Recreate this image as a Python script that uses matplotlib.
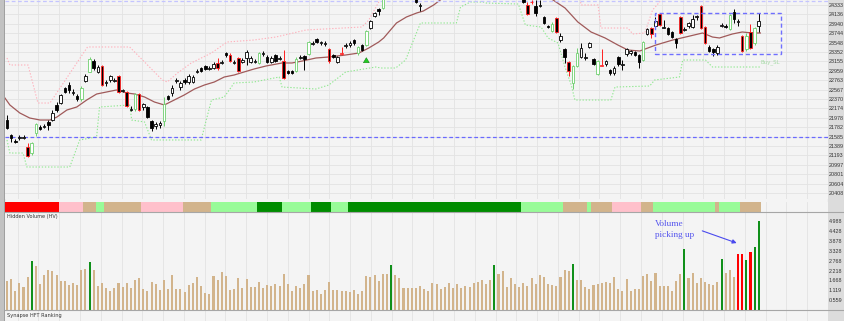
import numpy as np
import matplotlib.pyplot as plt
from matplotlib.patches import Rectangle
from matplotlib.lines import Line2D

W, H = 845, 321

# right axis labels
price_ticks = [24333, 24136, 23940, 23744, 23548, 23352, 23155, 22959, 22763, 22567,
               22370, 22174, 21978, 21782, 21585, 21389, 21193, 20997, 20801, 20604, 20408]
vol_ticks = [4.988, 4.428, 3.878, 3.328, 2.768, 2.218, 1.668, 1.119, 0.559]

# daily candles
opens = [21931, 21618, 21493, 21556, 21556, 21368, 21242, 21660, 21785, 21785,
         21890, 21931, 22245, 22286, 22600, 22662, 22495, 22432, 22370, 22746,
         22934, 23163, 22934, 23059, 22704, 22767, 22746, 22850, 22537, 22516,
         22140, 22161, 22474, 22203, 22203, 21911, 21806, 21827, 21911, 22432,
         22495, 22746, 22620, 22767, 22725, 22725, 22934, 23017, 23059, 22996,
         23017, 23122, 23122, 23330, 23289, 23122, 23226, 23142, 23226, 23142,
         23142, 23122, 23310, 23247, 23142, 23289, 23205, 23163, 22954, 22954,
         22954, 23226, 23268, 23310, 23518, 23623, 23539, 23518, 23414, 23289,
         23142, 23310, 23477, 23497, 23602, 23330, 23497, 23497, 23852, 24103,
         24249, 24270, 24500, 24580, 24650, 24610, 24700, 24660, 24600, 24458,
         24312, 24470, 24560, 24640, 24720, 24690, 24780, 24850, 24820, 24900,
         24960, 24920, 24990, 24950, 24880, 24930, 24870, 24800, 24840, 24750,
         24780, 24700, 24640, 24680, 24580, 24479, 24333, 24385, 24312, 24322,
         24082, 23894, 23790, 24061, 23602, 23414, 23142, 22704, 23059, 23247,
         23226, 23456, 23205, 22892, 23059, 23101, 22975, 22913, 23247, 23080,
         23310, 23330, 23351, 23289, 23184, 23727, 23852, 23894, 24145, 23852,
         23852, 23769, 23623, 24082, 23811, 23894, 23873, 24082, 24312, 23873,
         23456, 23414, 23330, 23894, 23894, 23832, 24186, 23978, 23685, 23414,
         23769, 23539, 23894]
highs = [22036, 21639, 21535, 21618, 21618, 21451, 21472, 21869, 21827, 21848,
         21931, 22140, 22307, 22474, 22620, 22725, 22579, 22474, 22641, 22892,
         23247, 23205, 23080, 23080, 22767, 22871, 22808, 22871, 22579, 22537,
         22224, 22495, 22495, 22286, 22224, 21931, 21890, 21911, 22412, 22453,
         22662, 22808, 22746, 22808, 22892, 22871, 22996, 23038, 23080, 23059,
         23142, 23226, 23184, 23351, 23330, 23184, 23247, 23226, 23393, 23268,
         23205, 23351, 23372, 23289, 23268, 23310, 23268, 23393, 22975, 22975,
         23247, 23289, 23289, 23581, 23581, 23644, 23581, 23581, 23435, 23310,
         23268, 23456, 23539, 23581, 23623, 23477, 23518, 23811, 24019, 24186,
         24270, 24541, 24620, 24690, 24700, 24740, 24750, 24690, 24630, 24562,
         24374, 24590, 24670, 24750, 24770, 24810, 24880, 24900, 24930, 25000,
         25010, 25030, 25040, 24980, 24960, 24950, 24890, 24870, 24860, 24810,
         24800, 24730, 24710, 24700, 24600, 24562, 24395, 24437, 24437, 24437,
         24103, 23915, 23978, 24082, 23748, 23435, 23163, 23080, 23435, 23539,
         23330, 23560, 23226, 23184, 23414, 23184, 22996, 23059, 23268, 23184,
         23435, 23393, 23372, 23310, 23581, 23852, 23873, 24082, 24166, 24019,
         23873, 23790, 23644, 24103, 23873, 23978, 24124, 24124, 24333, 23894,
         23497, 23435, 23497, 23957, 23936, 24145, 24249, 24040, 23706, 23748,
         23936, 23873, 24166]
lows = [21744, 21472, 21451, 21514, 21535, 21159, 21200, 21597, 21723, 21764,
        21723, 21911, 22098, 22265, 22495, 22495, 22453, 22328, 22328, 22725,
        22934, 22975, 22913, 22641, 22641, 22725, 22725, 22495, 22516, 22203,
        22119, 22119, 22119, 22140, 21973, 21702, 21744, 21764, 21806, 22349,
        22432, 22704, 22558, 22683, 22683, 22704, 22913, 22934, 22975, 22975,
        22996, 22975, 23101, 23247, 23142, 23101, 22934, 23122, 23080, 23122,
        23122, 23101, 23268, 23122, 23122, 23142, 23184, 22787, 22892, 22892,
        22934, 23205, 22975, 23289, 23497, 23539, 23497, 23477, 23122, 23226,
        23122, 23289, 23435, 23456, 23497, 23289, 23372, 23477, 23832, 24082,
        24124, 24249, 24470, 24540, 24570, 24590, 24620, 24560, 24490, 24374,
        24207, 24450, 24530, 24610, 24650, 24660, 24750, 24790, 24800, 24870,
        24880, 24900, 24910, 24850, 24850, 24830, 24770, 24760, 24720, 24700,
        24660, 24600, 24590, 24540, 24480, 24374, 24124, 24353, 24103, 24291,
        23936, 23852, 23769, 23748, 23560, 23122, 22850, 22579, 23038, 23226,
        23184, 23435, 23080, 22871, 23059, 23059, 22871, 22871, 23059, 22975,
        23268, 23289, 23268, 23017, 23163, 23706, 23644, 23873, 23894, 23852,
        23706, 23644, 23435, 23727, 23790, 23852, 23852, 24019, 23832, 23518,
        23351, 23268, 23289, 23873, 23852, 23811, 23957, 23894, 23351, 23372,
        23414, 23497, 23769]
closes = [21764, 21556, 21472, 21577, 21577, 21180, 21451, 21848, 21744, 21806,
          21827, 22078, 22140, 22453, 22516, 22558, 22516, 22370, 22600, 22850,
          23205, 23017, 23038, 22662, 22725, 22850, 22767, 22516, 22558, 22224,
          22161, 22474, 22140, 22265, 21994, 21764, 21848, 21869, 22265, 22370,
          22600, 22767, 22704, 22725, 22850, 22829, 22954, 22954, 22996, 23017,
          23101, 23017, 23142, 23289, 23163, 23142, 22954, 23184, 23351, 23226,
          23163, 23330, 23330, 23142, 23226, 23163, 23226, 22808, 22913, 22913,
          23205, 23247, 23205, 23560, 23539, 23560, 23560, 23539, 23163, 23247,
          23247, 23330, 23497, 23539, 23539, 23456, 23393, 23790, 23999, 24166,
          24207, 24500, 24580, 24650, 24610, 24700, 24660, 24600, 24520, 24395,
          24333, 24560, 24640, 24720, 24690, 24780, 24850, 24820, 24900, 24960,
          24920, 24990, 24950, 24880, 24930, 24870, 24800, 24840, 24750, 24780,
          24700, 24640, 24680, 24580, 24520, 24395, 24145, 24395, 24166, 24333,
          23957, 23873, 23936, 23769, 23685, 23247, 22954, 23059, 23330, 23435,
          23247, 23539, 23101, 23163, 23080, 23163, 22913, 23017, 23101, 23101,
          23414, 23372, 23289, 23142, 23560, 23832, 23727, 23999, 23915, 23873,
          23727, 23664, 23539, 23748, 23832, 23957, 24040, 24103, 23852, 23539,
          23372, 23351, 23456, 23915, 23873, 24124, 24040, 23999, 23372, 23685,
          23435, 23852, 23999]
red_edge = [5, 23, 27, 29, 32, 51, 54, 56, 67, 78, 81, 126, 127, 133, 136, 144,
            156, 158, 163, 168, 169, 178, 180]
green_edge = [6, 7, 18, 20, 31, 38, 61, 70, 73, 85, 87, 91, 132, 137, 138, 143,
              154, 175, 179, 181]

# moving average (brown line)
ma_idx = [-0.5, 0.7, 3.1, 5.5, 8.0, 10.4, 12.1, 14.5, 16.9, 19.3,
          21.7, 24.1, 26.5, 29.0, 30.9, 33.3, 35.7, 38.1, 40.5, 42.9,
          45.4, 47.8, 50.2, 52.6, 55.0, 57.4, 59.8, 62.7, 66.6, 69.0,
          71.5, 74.8, 77.9, 82.0, 85.2, 87.6, 90.0, 91.2, 94.3, 96.7,
          99.2, 100.8, 103.3, 104.9, 108, 112, 116, 120, 124, 128,
          132.2, 135.1, 138.2, 141.4, 144.8, 147.9, 150.3, 153.2, 157.1, 161.2,
          164.3, 168.4, 170.8, 172.5, 175.6, 178.0, 180.5, 182.4]
ma_val = [22391, 22245, 22078, 21973, 21931, 21931, 21994, 22140, 22203, 22349,
          22474, 22516, 22558, 22495, 22474, 22412, 22307, 22245, 22349, 22453,
          22579, 22662, 22725, 22829, 22871, 22934, 22996, 23059, 23122, 23122,
          23163, 23226, 23247, 23289, 23330, 23435, 23560, 23644, 23957, 24082,
          24166, 24207, 24333, 24437, 24650, 24800, 24860, 24820, 24720, 24600,
          24437, 24270, 23978, 23769, 23644, 23497, 23393, 23372, 23497, 23602,
          23664, 23748, 23664, 23644, 23727, 23769, 23748, 23748]

# upper band (pink dotted)
up_idx = [0, 0.7, 5.1, 7.5, 10.4, 19.5, 29.7, 34.5, 37.6, 38.8,
          41.3, 44.6, 49.5, 53.3, 59.8, 65.1, 72.4, 85.9, 87.6, 90.0,
          91.2, 100, 120, 137.5, 139.0, 143.1, 143.8, 150.3, 151.5, 154.4,
          156.3, 158.0, 158.7, 182.4]
up_val = [23226, 23080, 23080, 22286, 22286, 23456, 23456, 23038, 22767, 22725,
          22913, 23122, 23330, 23560, 23602, 23664, 23811, 23873, 24019, 24395,
          24646, 24900, 25100, 25100, 24333, 24333, 23852, 23852, 23727, 23748,
          24228, 24395, 24541, 24700]

# lower band (green dotted)
lo_idx = [0, 0.7, 3.9, 4.8, 15.2, 17.6, 21.7, 22.4, 29.7, 30.2,
          33.3, 35.0, 47.0, 49.5, 52.6, 55.0, 59.8, 65.9, 66.6, 74.8,
          77.9, 82.0, 89.3, 90.5, 94.1, 96.5, 100.1, 108.8, 109.8, 112.2,
          115.3, 116.0, 123.8, 125.5, 129.3, 131.0, 133.4, 135.1, 136.6, 137.5,
          146.2, 147.2, 155.6, 156.8, 162.8, 163.6, 169.1, 170.8, 182.4]
lo_val = [21514, 21242, 21242, 20950, 20950, 21514, 21577, 22203, 22245, 21931,
          21890, 21514, 21514, 22349, 22412, 22704, 22725, 22829, 22620, 22579,
          22662, 22934, 23038, 23017, 23017, 23184, 23957, 23957, 24291, 24395,
          24395, 24374, 24353, 23915, 23873, 23644, 23539, 23038, 22662, 22349,
          22349, 22620, 22641, 22767, 22829, 23184, 23184, 23038, 23038]

# hidden volume
volume = [1.63, 1.73, 1.07, 1.50, 1.28, 1.88, 2.76, 2.50, 1.47, 1.97,
          2.24, 2.18, 1.97, 1.62, 1.62, 1.43, 1.52, 1.41, 2.25, 2.29,
          2.71, 2.24, 1.37, 1.52, 1.24, 1.09, 1.22, 1.50, 1.28, 1.52,
          1.22, 1.67, 1.82, 1.17, 1.09, 1.58, 1.45, 1.13, 1.69, 1.18,
          1.95, 1.18, 1.18, 1.03, 1.41, 1.50, 1.88, 1.35, 0.96, 0.92,
          1.92, 1.67, 2.14, 1.90, 1.11, 1.17, 1.82, 1.22, 1.75, 1.31,
          1.30, 1.60, 1.24, 1.43, 1.37, 1.47, 1.37, 2.03, 1.45, 1.09,
          1.37, 1.24, 1.48, 1.95, 1.09, 1.11, 0.92, 1.13, 1.58, 1.13,
          1.15, 1.05, 1.05, 1.01, 1.13, 0.92, 1.07, 1.90, 1.86, 1.95,
          1.65, 2.01, 2.01, 2.54, 1.95, 1.79, 1.22, 1.26, 1.26, 1.26,
          1.37, 1.17, 1.05, 1.50, 1.47, 1.18, 1.30, 1.50, 1.26, 1.47,
          1.24, 1.35, 1.30, 1.50, 1.56, 1.71, 1.48, 1.67, 2.54, 2.01,
          2.18, 1.30, 1.80, 1.47, 1.28, 1.50, 1.37, 1.80, 1.47, 1.95,
          1.88, 1.45, 1.39, 1.37, 1.88, 2.25, 2.20, 2.59, 1.67, 1.67,
          1.30, 1.17, 1.43, 1.45, 1.50, 1.58, 1.54, 1.86, 1.20, 1.05,
          1.75, 1.05, 1.20, 1.20, 1.93, 2.03, 1.63, 2.09, 1.37, 1.37,
          1.37, 1.09, 1.63, 2.01, 3.44, 1.82, 2.10, 1.54, 1.80, 1.56,
          1.45, 1.39, 1.56, 2.87, 2.09, 2.24, 1.84, 3.16, 3.16, 2.84,
          3.25, 3.57, 5.02]
vol_green = [6, 20, 93, 118, 137, 164, 173, 179, 181, 182]
vol_red = [177, 178, 180]

# ranking strip: colour code and run length in bars
strip_cols = ['r', 'p', 't', 'l', 't', 'p', 't', 'l', 'd', 'l', 'd', 'l',
              'd', 'l', 't', 'l', 't', 'p', 't', 'l', 't', 'l', 't']
strip_runs = [13, 6, 3, 2, 9, 10, 7, 11, 6, 7, 5, 4, 42, 10, 6, 1, 5, 7, 3, 15, 1, 5, 5]
strip_map = {'r': '#ff0000', 'p': '#ffc0cb', 't': '#d2b48c', 'l': '#98fb98', 'd': '#008c00'}

BG = '#f4f4f4'
GRID = '#e3e3e3'
XL = (-0.48, 198.1)
grid_x = np.arange(2.6, 199, 5.03)
TICK_FONT = dict(family='Liberation Sans', size=3.9)


def box(x0, y0, x1, y1):
    return [x0 / W, 1 - y1 / H, (x1 - x0) / W, (y1 - y0) / H]


def style(ax):
    ax.set_facecolor(BG)
    ax.set_xlim(*XL)
    for s in ax.spines.values():
        s.set_visible(False)
    ax.set_xticks(grid_x)
    ax.tick_params(axis='x', bottom=False, labelbottom=False)
    ax.grid(axis='x', color=GRID, lw=0.6)
    ax.set_axisbelow(True)


fig = plt.figure(figsize=(W / 100, H / 100), dpi=100, facecolor=BG)
fig.add_artist(Rectangle((828 / W, 0), 17 / W, 1, transform=fig.transFigure,
                         color='#dcdcdc', zorder=0))
fig.add_artist(Rectangle((0, 0), 4 / W, 1, transform=fig.transFigure,
                         color='#c2c2c2', zorder=0))

# main price panel
ax = fig.add_axes(box(5, 0, 828, 199))
style(ax)
ax.set_ylim(20282, 24437)
ax.yaxis.tick_right()
ax.set_yticks(price_ticks)
ax.set_yticklabels([str(p) for p in price_ticks], fontdict=TICK_FONT)
ax.tick_params(axis='y', length=0, pad=0.6, colors='#333333')
ax.grid(axis='y', color=GRID, lw=0.6)

ax.plot(up_idx, up_val, color='#ffb0bb', ls=(0, (1.2, 1.6)), lw=0.8, zorder=2)
ax.plot(lo_idx, lo_val, color='#90e890', ls=(0, (1.2, 1.6)), lw=0.8, zorder=2)
ax.plot(ma_idx, ma_val, color='#a05a5a', lw=0.9, zorder=2)
ax.axhline(21585, color='#6a6aff', ls=(0, (3, 2)), lw=0.9, zorder=2)
ax.axhline(24416, color='#c4c4ff', ls=(0, (3, 2)), lw=0.9, zorder=2)

for i in range(len(opens)):
    o, h, l, c = opens[i], highs[i], lows[i], closes[i]
    face = 'black' if c < o else 'white'
    edge = 'black'
    if i in red_edge:
        edge = '#ff2020'
    elif i in green_edge:
        edge = '#6fd06f'
    ax.vlines(i, l, h, color=edge, lw=0.7, zorder=3)
    ax.bar(i, max(abs(c - o), 8), bottom=min(o, c), width=0.62, color=face,
           edgecolor=edge, linewidth=0.6, zorder=4)

ax.add_patch(Rectangle((156.8, 23310), 30.7, 856, fill=False, ec='#6f6fff',
                       ls=(0, (3, 2)), lw=1.0, zorder=5))
ax.annotate('', xy=(87, 23290), xytext=(87, 23110),
            arrowprops=dict(arrowstyle='simple,head_width=0.7,head_length=0.6,tail_width=0.35',
                            fc='#22cc22', ec='#118811', lw=0.4, mutation_scale=6))
ax.text(182.4, 23142, 'Buy_SL', color='#a8dca8', fontsize=4, va='center')

# ranking strip
ax_s = fig.add_axes(box(5, 202, 828, 212))
style(ax_s)
ax_s.set_ylim(0, 1)
ax_s.set_yticks([])
start = -0.5
for code, n in zip(strip_cols, strip_runs):
    ax_s.broken_barh([(start, n)], (0, 1), facecolors=strip_map[code], zorder=3)
    start += n

# hidden volume panel
ax_v = fig.add_axes(box(5, 212, 828, 310))
style(ax_v)
ax_v.set_ylim(0, 5.52)
ax_v.yaxis.tick_right()
ax_v.set_yticks(vol_ticks)
ax_v.set_yticklabels(['%.3f' % v for v in vol_ticks], fontdict=TICK_FONT)
ax_v.tick_params(axis='y', length=0, pad=0.6, colors='#333333')
vcols = ['#10901a' if i in vol_green else '#ff0000' if i in vol_red else '#d2b48c'
         for i in range(len(volume))]
ax_v.bar(np.arange(len(volume)), volume, width=0.5, color=vcols, zorder=3)
ax_v.text(156.8, 5.05, 'Volume\npicking up', family='Liberation Serif', fontsize=6.7,
          color='#5555ee', va='top', ha='left', linespacing=1.45)
ax_v.annotate('', xy=(177.3, 3.72), xytext=(167.7, 4.51),
              arrowprops=dict(arrowstyle='-|>', color='#4a4aee', lw=0.8, mutation_scale=6))

# bottom ranking label row
ax_b = fig.add_axes(box(5, 310, 828, 321))
style(ax_b)
ax_b.set_yticks([])

for yy in (212, 310):
    fig.add_artist(Line2D([5 / W, 1], [1 - yy / H] * 2, color='#a6a6a6', lw=0.8))
fig.add_artist(Line2D([4.5 / W] * 2, [0, 1], color='#9a9a9a', lw=0.6))

fig.text(7 / W, 1 - 216.5 / H, 'Hidden Volume (HV)', fontsize=3.6, va='center', color='#333333')
fig.text(7 / W, 1 - 315.5 / H, 'Synapse HFT Ranking', fontsize=3.6, va='center', color='#333333')

fig.savefig('out.png', dpi=100, facecolor=fig.get_facecolor())
